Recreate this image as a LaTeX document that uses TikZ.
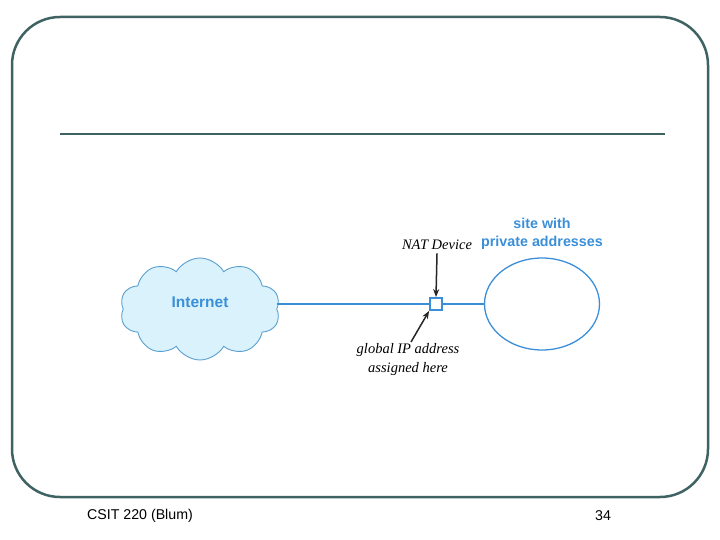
\documentclass[tikz,border=0pt]{standalone}
\usepackage{fontspec}
\setmainfont{Liberation Serif}
\setsansfont{Liberation Sans}
\usetikzlibrary{shapes.symbols,shapes.geometric,arrows.meta}
\definecolor{frame}{HTML}{3F6262}
\definecolor{netblue}{HTML}{3A8FD8}
\definecolor{cloudfill}{HTML}{DAF2FC}
\definecolor{cloudline}{HTML}{5A9FD0}
\begin{document}
\begin{tikzpicture}[x=1pt,y=-1pt,
  bluetext/.style={font=\sffamily\bfseries\fontsize{14.3}{18}\selectfont, text=netblue, align=center},
  itxt/.style={font=\itshape\fontsize{14.5}{19}\selectfont, align=center},
  link/.style={netblue, line width=1.3pt},
  pointer/.style={-{Stealth[length=8pt,width=6pt]}, line width=1.5pt, black!85}]
\useasboundingbox (0,0) rectangle (720,540);
\draw[frame, line width=2.5pt, rounded corners=48pt] (12,17) rectangle (708,497);
\draw[frame, line width=2.5pt] (60,134) -- (665,134);
\node[cloud, cloud puffs=10, cloud puff arc=120, aspect=1.6, draw=cloudline, fill=cloudfill, line width=0.9pt,
  minimum width=160pt, minimum height=102pt, inner sep=0pt] (cloud) at (200,309) {};
\node[bluetext, font=\sffamily\bfseries\fontsize{15.5}{18}\selectfont] (inet) at (200,302) {Internet};
\node[draw=netblue, line width=1.8pt, fill=white, minimum size=12pt, inner sep=0pt] (nat) at (436,304) {};
\node[draw=netblue, line width=1.3pt, ellipse, minimum width=115pt, minimum height=92pt] (site) at (542,304) {};
\draw[link] (cloud.east |- nat.west) -- (nat.west);
\draw[link] (nat.east) -- (site.west);
\node[bluetext] (sitelbl) at (542,234) {site with\\private addresses};
\node[itxt] (natlbl) at (437,245) {NAT Device};
\draw[pointer] (natlbl.south) -- (nat.north);
\node[itxt] (glbl) at (408,360) {global IP address\\assigned here};
\coordinate (gstart) at (411,342);
\draw[pointer] (gstart) -- (nat.south west);
\node[font=\sffamily\fontsize{14.2}{16}\selectfont] (foot) at (140,516) {CSIT 220 (Blum)};
\node[font=\sffamily\fontsize{14.2}{16}\selectfont] (page) at (603,516) {34};
\end{tikzpicture}
\end{document}
